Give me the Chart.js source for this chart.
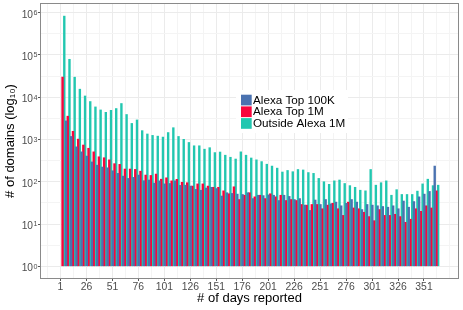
<!DOCTYPE html>
<html><head><meta charset="utf-8">
<script src="https://cdn.jsdelivr.net/npm/chart.js@4/dist/chart.umd.min.js"></script>
<style>html,body{margin:0;padding:0;background:#fff}#wrap{width:463px;height:310px;position:relative}</style>
</head><body><div id="wrap"><canvas id="c" width="463" height="310"></canvas></div>
<script>
// 5-day bins (first day of each bin)
const binStartDays = [1,6,11,16,21,26,31,36,41,46,51,56,61,66,71,76,81,86,91,96,101,106,111,116,121,126,131,136,141,146,151,156,161,166,171,176,181,186,191,196,201,206,211,216,221,226,231,236,241,246,251,256,261,266,271,276,281,286,291,296,301,306,311,316,321,326,331,336,341,346,351,356,361];
const seriesLabels = ['Alexa Top 100K', 'Alexa Top 1M', 'Outside Alexa 1M'];
const top100k = [null,2760,1180,670,510,405,295,247,223,214,
  182,158,136,120,127,144,106,110,93,105,
  89,91,105,82,83,79,66,63,71,74,
  69,46,55,53,51,50,55,40,48,47,
  49,48,36,48,45,38,40,28,21,37,
  29,38,30,33,27,31,38,33,22,29,
  28,27,26,25,27,23,35,25,34,44,
  51,59,235];
const top1m = [30000,3560,1560,1020,740,620,510,390,370,330,
  268,258,200,200,196,178,144,141,152,115,
  124,105,114,97,95,79,89,89,79,74,
  74,61,52,76,38,48,55,44,48,40,
  52,44,48,36,38,36,29,28,29,29,
  23,28,31,23,16,33,24,23,19,15,
  12,22,16,16,17,15,11,13,23,20,
  27,24,61];
const outside = [830000,79000,29800,15500,10700,7900,5900,5000,4400,4900,
  5400,7100,3900,2400,2900,1620,1350,1250,1200,1140,
  1460,1900,1180,1010,850,710,710,590,640,490,
  505,425,380,345,510,425,365,330,300,260,
  235,210,170,185,173,195,190,165,158,120,
  100,87,105,110,91,81,74,63,61,195,
  83,95,105,48,65,50,50,50,60,89,
  115,81,83];
const xTickLabels = [1,26,51,76,101,126,151,176,201,226,251,276,301,326,351];
const yTickBase = '10';
const yTickExponents = [0,1,2,3,4,5,6];
const xTitle = '# of days reported';
const yTitle = '# of domains (log\u2081\u2080)';
const seriesColors = ['#4A72B0', '#F8063C', '#22C7B0'];

const FONT = '"Liberation Sans", Arial, Helvetica, sans-serif';
const toPoints = arr => arr.map((v, i) => ({x: binStartDays[i] + 2, y: v}));
const seriesValues = [top100k, top1m, outside];

const X_MIN = -17.75, X_MAX = 383.75;
const Y_MIN = Math.pow(10, -0.277), Y_MAX = Math.pow(10, 6.2058);
const Y_LABEL_RIGHT_GAP = 5;
const Y_LABEL_OFFSET = 2;

const xStep = xTickLabels[1] - xTickLabels[0];
const xMinor = [];
for (let i = -1; i < xTickLabels.length; i++) {
  const b = xTickLabels[0] + i * xStep;
  [b + xStep / 2, b + xStep].forEach(v => { if (v > X_MIN && v < X_MAX && !xTickLabels.includes(v)) xMinor.push(v); });
}
const expOf = v => Math.round(Math.log10(v) * 1000) / 1000;
const isMajorY = v => yTickExponents.includes(expOf(v));

const panelAndLegend = {
  id: 'panelAndLegend',
  afterDatasetsDraw(chart) {
    const {ctx, chartArea: a} = chart;
    ctx.save();
    // legend
    ctx.fillStyle = '#ffffff';
    ctx.fillRect(236, 90, 112, 43);
    const keyX = 241, keyY0 = 94.7, step = 11.7, keySize = 10.7;
    ctx.font = '11.7px ' + FONT;
    ctx.textBaseline = 'middle';
    ctx.textAlign = 'left';
    chart.data.datasets.forEach((ds, i) => {
      const y = keyY0 + i * step;
      ctx.fillStyle = ds.backgroundColor;
      ctx.fillRect(keyX, y, keySize, keySize);
      ctx.fillStyle = '#000';
      ctx.fillText(ds.label, keyX + keySize + 1.3, y + keySize / 2 + 0.5);
    });
    // panel border
    ctx.strokeStyle = '#8a8a8a';
    ctx.lineWidth = 1;
    ctx.strokeRect(a.left - 0.5, a.top - 0.5, a.right - a.left + 1, a.bottom - a.top + 1);
    ctx.restore();
  },
  afterDraw(chart) {
    // superscript exponents next to the "10" tick labels
    const {ctx} = chart;
    const ys = chart.scales.y;
    const tl = ys.options.grid.tickLength;
    const xRight = chart.chartArea.left - tl - Y_LABEL_RIGHT_GAP;
    ctx.save();
    ctx.font = '7.2px ' + FONT;
    ctx.fillStyle = '#4d4d4d';
    ctx.textAlign = 'left';
    ctx.textBaseline = 'alphabetic';
    yTickExponents.forEach(e => {
      const py = ys.getPixelForValue(Math.pow(10, e));
      ctx.fillText(String(e), xRight + 0.6, py + 2.4);
    });
    ctx.restore();
  }
};

new Chart(document.getElementById('c'), {
  type: 'bar',
  data: {
    datasets: seriesLabels.map((lab, i) => ({
      label: lab,
      data: toPoints(seriesValues[i]),
      backgroundColor: seriesColors[i],
      borderWidth: 0,
      base: 1,
      categoryPercentage: 1,
      barPercentage: 1
    }))
  },
  options: {
    responsive: false,
    devicePixelRatio: 1,
    animation: false,
    layout: {padding: {top: 4, right: 5, left: 0, bottom: 0}},
    plugins: {legend: {display: false}, tooltip: {enabled: false}},
    scales: {
      x: {
        type: 'linear',
        min: X_MIN, max: X_MAX,
        offset: false,
        grid: {
          offset: false,
          color: c => (xTickLabels.includes(c.tick.value) ? '#ebebeb' : '#f4f4f4'),
          tickColor: c => (xTickLabels.includes(c.tick.value) ? '#555' : 'rgba(0,0,0,0)'),
          tickLength: 3,
          lineWidth: 1
        },
        border: {display: false},
        afterBuildTicks: s => {
          s.ticks = xTickLabels.concat(xMinor).sort((a, b) => a - b).map(v => ({value: v}));
        },
        afterFit: s => { s.height = 32; s.paddingLeft = 0; s.paddingRight = 0; },
        ticks: {
          autoSkip: false, maxRotation: 0, padding: 0,
          color: '#4d4d4d',
          font: {family: FONT, size: 10.4},
          callback: v => (xTickLabels.includes(v) ? String(v) : '')
        },
        title: {display: true, text: xTitle, color: '#000', font: {family: FONT, size: 13}, padding: {top: 0, bottom: 4}}
      },
      y: {
        type: 'logarithmic',
        min: Y_MIN, max: Y_MAX,
        grid: {
          color: c => (isMajorY(c.tick.value) ? '#ebebeb' : '#f4f4f4'),
          tickColor: c => (isMajorY(c.tick.value) ? '#555' : 'rgba(0,0,0,0)'),
          tickLength: 3,
          lineWidth: 1
        },
        border: {display: false},
        afterBuildTicks: s => {
          const t = [];
          yTickExponents.forEach(e => {
            t.push({value: Math.pow(10, e)});
            const m = Math.pow(10, e + 0.5);
            if (m < Y_MAX) t.push({value: m});
          });
          s.ticks = t;
        },
        afterFit: s => { s.width = 41; s.paddingTop = 0; s.paddingBottom = 0; },
        ticks: {
          autoSkip: false, padding: Y_LABEL_RIGHT_GAP, labelOffset: Y_LABEL_OFFSET,
          color: '#4d4d4d',
          font: {family: FONT, size: 10.2},
          callback: v => (isMajorY(v) ? yTickBase : '')
        },
        title: {display: true, text: yTitle, color: '#000', font: {family: FONT, size: 13}, padding: {top: 3, bottom: 0}}
      }
    }
  },
  plugins: [panelAndLegend]
});
</script>
</body></html>
